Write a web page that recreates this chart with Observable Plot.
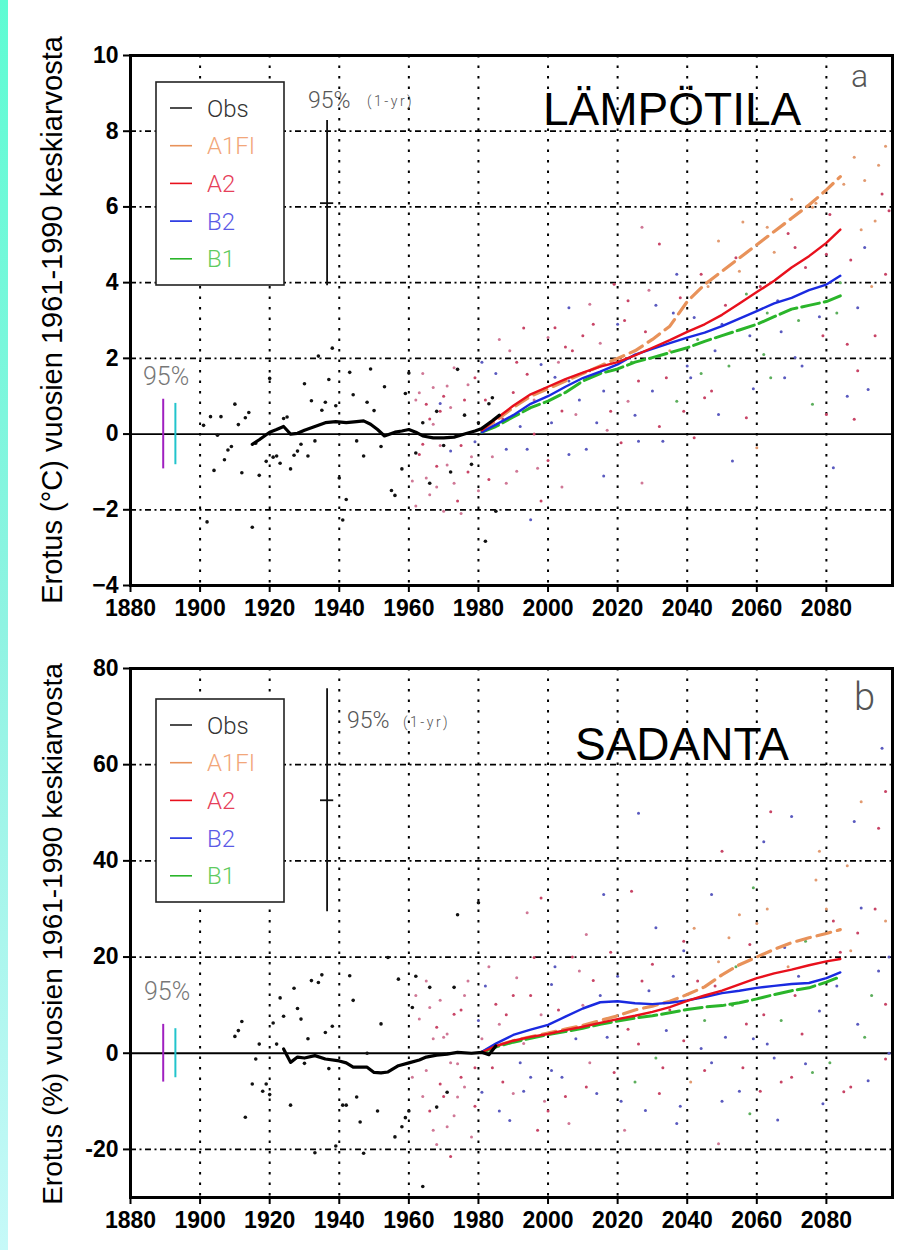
<!DOCTYPE html>
<html>
<head>
<meta charset="utf-8">
<script src="https://cdn.jsdelivr.net/npm/d3@7"></script>
<script src="https://cdn.jsdelivr.net/npm/@observablehq/plot@0.6"></script>
<style>
  body { margin: 0; background: #fff; }
  #page { position: relative; width: 923px; height: 1250px; overflow: hidden; background: #fff;
          font-family: "Liberation Sans", Arial, sans-serif; }
  #strip { position: absolute; left: 0; top: 0; width: 8px; height: 1250px;
           background: linear-gradient(#5efcd3, #8ff3e2 50%, #c6f9f8); }
  .panel { position: absolute; left: 0; }
  #overlay { position: absolute; left: 0; top: 0; pointer-events: none; }
</style>
</head>
<body>
<div id="page"><div id="strip"></div></div>
<script>
// ---------------- DATA ----------------
const xTicks = [1880, 1900, 1920, 1940, 1960, 1980, 2000, 2020, 2040, 2060, 2080];
const tempYTicks = [-4, -2, 0, 2, 4, 6, 8, 10];
const precYTicks = [-20, 0, 20, 40, 60, 80];
const legendNames = ["Obs", "A1FI", "A2", "B2", "B1"];

// Temperature: observed annual values (°C)
const tObsYear = [1901,1902,1903,1904,1905,1906,1907,1908,1909,1910,1911,1912,1913,1914,1915,1916,1917,1919,1920,1921,1922,1923,1924,1925,1926,1927,1928,1929,1930,1931,1932,1933,1934,1935,1936,1937,1938,1939,1940,1941,1942,1943,1944,1945,1947,1948,1949,1950,1952,1953,1955,1956,1958,1959,1960,1962,1964,1966,1968,1970,1972,1974,1976,1978,1980,1982,1983,1984,1985];
const tObsVal  = [0.23,-2.32,0.46,-0.96,-0.03,0.46,-0.68,-0.42,-0.33,0.79,0.25,-1.02,0.43,0.57,-2.46,-0.24,-1.09,-0.72,1.47,-0.61,-0.58,-0.77,0.41,0.45,-0.92,-0.56,-0.45,-0.27,1.33,-0.58,0.88,-0.18,2.06,0.63,0.84,1.44,2.27,0.75,-1.16,-2.27,-1.73,1.63,1.04,-0.18,-0.58,0.84,1.72,0.62,-0.33,1.25,-1.49,-1.62,-0.92,1.07,1.61,-0.5,0.3,-1.3,0.6,-0.3,-1.0,1.71,0.5,-0.8,0.3,-2.83,0.8,0.96,-2.04];
// Temperature: observed smoothed curve
const tObsLineYear = [1915,1917,1920,1922,1924,1925,1926,1928,1930,1933,1936,1939,1942,1945,1947,1949,1951,1953,1954,1956,1958,1960,1962,1964,1967,1970,1973,1976,1979,1981,1984,1986];
const tObsLineVal  = [-0.27,-0.15,0.05,0.12,0.2,0.1,0.0,0.02,0.1,0.2,0.3,0.33,0.3,0.33,0.35,0.26,0.12,-0.05,-0.02,0.05,0.08,0.12,0.05,-0.05,-0.1,-0.1,-0.08,0.0,0.08,0.15,0.35,0.5];
// Temperature: model annual values (°C) and scenario
const tModYear = [1961,1963,1963,1964,1965,1965,1966,1967,1967,1968,1969,1969,1970,1971,1971,1972,1973,1974,1976,1978,1979,1981,1983,1986,1988,1989,1990,1991,1992,1993,1994,1995,1996,1997,1998,1998,1999,2000,2001,2002,2003,2004,2005,2006,2006,2006,2008,2009,2010,2012,2012,2014,2015,2016,2016,2018,2019,2020,2021,2023,2023,2024,2026,2026,2027,2027,2028,2030,2031,2032,2033,2034,2035,2037,2037,2038,2040,2041,2042,2042,2043,2044,2045,2046,2047,2048,2049,2049,2051,2052,2053,2054,2055,2057,2057,2058,2060,2061,2062,2063,2064,2065,2066,2067,2068,2069,2071,2071,2072,2074,2076,2076,2077,2078,2080,2080,2081,2082,2083,2085,2086,2087,2088,2088,2089,2089,2090,2091,2092,2093,2094,2095,2096,2097,2098,2099,
  1962,1962,1964,1966,1968,1969,1970,1972,1973,1975,1975,1977,1977,1979,1980,1982,1984,1985,1987,1988,1991,1994,1996,2000,2002,2004,2007,2011,2013,2017,2022,2025,2029,2032,2036,2039,2044,2050,2056,2059,2063,2070,2073,2079,2084,2086,2091,2094,2097];
const tModVal  = [-1.24,1.09,-0.54,-0.27,0.79,-1.16,-1.6,1.23,0.26,-0.85,0.81,0.6,-2.04,1.27,-0.82,-0.45,1.75,-1.77,0.9,-0.6,1.49,1.9,-1.2,2.5,-0.4,2.2,1.1,-0.98,0.2,2.8,1.58,-2.26,0.0,-0.9,1.84,-1.77,1.2,2.55,0.3,2.81,1.9,0.61,2.3,-0.54,1.4,3.34,0.52,0.9,2.6,1.67,3.43,0.3,2.4,-1.11,1.14,0.6,3.96,2.9,-0.23,0.87,3.52,1.9,-0.19,1.4,-1.29,5.46,2.7,1.14,3.4,5.02,-0.19,1.49,2.2,0.87,4.22,3.6,1.8,1.49,-0.1,3.08,2.5,4.22,0.96,3.9,1.14,2.2,0.52,5.1,3.4,1.8,-0.71,4.66,4.3,0.43,3.7,2.6,-0.36,3.9,2.1,5.46,1.49,4.8,3.52,2.7,1.49,5.3,2.02,4.93,3.0,4.4,0.79,5.99,6.1,3.1,0.52,4.75,5.8,-0.89,3.2,6.6,2.37,4.6,0.39,7.31,1.67,3.34,5.4,4.93,1.18,3.9,5.63,7.1,6.34,4.22,5.9,4.5,
  0.9,-1.9,1.6,0.4,-1.4,-0.3,1.0,0.7,-1.3,-0.3,-2.1,1.3,-1.0,-0.2,-1.5,0.9,-0.6,1.6,0.4,-1.3,1.9,-0.4,0.9,-0.7,1.5,-1.4,2.2,-0.4,2.9,0.1,3.0,0.5,3.8,0.2,3.2,0.6,1.6,2.9,5.6,1.2,3.2,6.2,1.8,2.6,4.0,1.0,6.7,2.6,7.6];
const tModScen = ["C","C","A2","A2","A2","C","C","C","C","A2","B2","A2","C","C","C","B2","C","A2","A2","C","A2","B2","A2","C","B2","C","A2","C","B2","A2","A2","B2","A2","C","B2","A2","A2","C","B2","A2","C","A2","A2","B2","B2","B2","C","B2","A2","A2","C","B2","C","B2","B2","A2","A2","B2","A2","C","A2","B1","B2","A2","C","C","A2","B2","B2","A2","B2","A2","A1FI","B1","B2","A2","B2","B2","A2","B2","B1","A2","A2","A1FI","A2","B2","B2","A1FI","A2","B1","B2","A2","A1FI","A2","B1","B2","A1FI","A2","B1","A1FI","B1","A1FI","B2","B2","B2","A2","B2","A2","B1","A2","B1","A1FI","A1FI","B2","A2","A2","A2","B2","B1","A1FI","A2","A2","A2","A1FI","A2","B2","A1FI","B2","B2","A1FI","A1FI","A1FI","A2","A2","A2","B2",
  "C","C","C","A2","C","C","A2","C","C","A2","C","C","A2","B2","C","A2","C","B2","A2","C","A2","B2","C","A2","B2","C","A2","B2","A2","C","A2","B2","C","A2","B2","A2","B1","B2","A1FI","B2","B1","A1FI","B2","A2","B1","B2","A1FI","A2","A1FI"];

// Temperature: scenario 30-yr means (°C)
const scenYears = [1981,1985,1990,1995,2000,2005,2010,2015,2020,2025,2030,2035,2040,2045,2050,2055,2060,2065,2070,2075,2080,2084];
const tA1FI = [0.1,0.35,0.7,1.0,1.2,1.4,1.6,1.8,2.0,2.2,2.5,2.85,3.5,3.95,4.3,4.65,5.0,5.35,5.7,6.05,6.45,6.8];
const tA2   = [0.1,0.4,0.75,1.05,1.25,1.45,1.62,1.78,1.9,2.08,2.28,2.48,2.7,2.9,3.15,3.45,3.75,4.05,4.4,4.7,5.05,5.4];
const tB2   = [0.05,0.25,0.5,0.8,1.0,1.25,1.48,1.65,1.84,2.1,2.25,2.4,2.55,2.68,2.85,3.05,3.25,3.45,3.6,3.8,3.95,4.18];
const tB1   = [0.05,0.2,0.45,0.7,0.87,1.1,1.4,1.6,1.72,1.9,2.02,2.15,2.28,2.45,2.6,2.75,2.9,3.1,3.3,3.4,3.5,3.65];

// Precipitation: observed annual values (%)
const pObsYear = [1910,1911,1912,1913,1915,1916,1917,1918,1919,1920,1921,1922,1923,1924,1926,1927,1928,1929,1930,1931,1932,1933,1934,1935,1936,1937,1938,1939,1941,1942,1943,1944,1945,1946,1947,1948,1951,1952,1954,1956,1957,1958,1959,1960,1961,1962,1964,1966,1968,1971,1973,1974,1980];
const pObsVal  = [3.5,4.7,6.6,-13.3,-6.4,-1.2,1.9,-7.9,-6.4,-8.6,6.3,1.9,11.5,7.7,-10.8,13.5,9.3,7.1,-2.1,3.0,15.1,-20.7,14.7,16.3,4.3,-3.2,5.6,-19.3,-10.8,-10.8,16.1,11.0,-9.1,-14.3,-20.8,0.0,-12.0,6.1,19.9,-17.4,15.4,-15.3,-13.4,-12.0,9.5,16.0,-27.7,13.7,-11.2,-8.1,13.7,28.8,31.3];
// Precipitation: observed smoothed curve
const pObsLineYear = [1924,1926,1928,1930,1933,1936,1940,1942,1944,1948,1950,1952,1954,1957,1960,1963,1965,1968,1971,1974,1978,1981,1983,1985];
const pObsLineVal  = [0.9,-1.9,-0.8,-1.0,-0.5,-1.2,-1.6,-2.0,-2.9,-2.9,-4.0,-4.1,-3.9,-2.6,-2.0,-1.4,-0.8,-0.4,-0.2,0.2,0.0,0.2,-0.3,1.5];
// Precipitation: model annual values (%) and scenario
const pModYear = [1963,1965,1966,1967,1968,1969,1970,1971,1972,1973,1974,1974,1975,1976,1978,1979,1980,1981,1983,1985,1986,1987,1988,1990,1991,1992,1993,1994,1995,1996,1997,1998,1999,2001,2001,2003,2004,2006,2007,2008,2009,2011,2011,2012,2013,2014,2015,2016,2017,2019,2020,2022,2023,2024,2025,2026,2026,2028,2029,2030,2031,2032,2033,2034,2036,2037,2039,2039,2039,2041,2043,2045,2045,2047,2047,2049,2049,2050,2051,2052,2053,2055,2055,2056,2057,2058,2058,2059,2060,2061,2062,2062,2063,2064,2065,2066,2067,2068,2069,2070,2070,2071,2073,2074,2074,2076,2078,2078,2079,2080,2082,2083,2085,2087,2087,2088,2089,2090,2090,2091,2092,2093,2095,2095,2096,2097,2097,2097,2097,2098,2099,
  1961,1962,1964,1965,1966,1967,1968,1969,1970,1971,1972,1973,1975,1976,1977,1979,1981,1982,1984,1986,1989,1990,1993,1995,1998,2000,2002,2005,2010,2018,2021,2027,2031,2035,2038,2042,2044,2048,2050,2054,2059,2063,2067,2072,2077,2081,2084,2086,2089,2094,2098];
const pModVal  = [7.1,-3.6,9.5,-16.0,5.4,-6.4,3.3,-15.3,-21.5,8.1,-9.1,-2.2,-5.0,12.0,-17.4,-3.0,6.8,-8.1,18.0,10.2,-12.0,-6.0,8.0,-8.4,15.7,-2.0,-7.9,29.2,12.0,19.9,-16.0,32.3,-10.0,-3.6,14.3,9.0,-5.0,-14.6,20.0,3.0,17.1,-7.0,24.7,-2.0,15.1,-8.4,12.0,33.0,3.3,-4.0,16.0,-16.0,5.0,33.7,-6.0,1.9,49.9,-11.9,13.0,18.5,26.1,-8.4,-3.0,4.7,16.0,-14.6,2.6,21.3,23.3,-6.0,15.0,-3.6,6.8,-2.0,33.0,-18.8,19.0,42.0,3.3,24.0,10.0,-7.9,28.8,-3.0,6.1,-12.6,22.6,34.4,27.0,-7.9,44.0,8.0,1.9,50.2,-1.0,-13.9,6.8,22.0,18.0,-5.0,49.2,12.0,4.0,-2.2,23.3,-4.0,8.8,42.0,-10.5,30.0,27.5,14.0,-8.0,-7.0,21.3,48.2,25.0,52.3,30.2,3.3,-5.7,12.0,17.1,46.8,63.4,-1.2,10.2,54.4,27.5,20.0,35.0,
  -5,12,-9,15,-12,3,-19,11,-9,4,-2,-13,9,-7,15,-11,3,14,-3,6,-14,12,2,-5,8,-12,18,-9,10,21,-10,15,-1,9,-11,26,1,14,-10,18,3,30,-6,16,36,-2,21,39,6,30,0];
const pModScen = ["C","C","C","C","A2","A2","C","C","A2","A2","C","C","A2","C","C","A2","B2","B2","C","A2","B2","A2","A2","C","C","B2","B2","C","A2","A2","A2","A2","C","B2","B2","A2","B2","C","A2","B2","C","A2","C","C","A2","B2","B2","B2","B2","A2","B2","C","A2","A2","B1","A2","B2","B2","B2","A2","B2","A2","A2","B2","B2","B2","A2","B2","A2","A1FI","A2","A2","B1","B2","B2","C","A1FI","A2","B2","A1FI","B1","B2","A1FI","A2","A2","B1","A2","B1","A1FI","A2","B2","A2","B2","A2","B2","B2","B1","B2","A1FI","A2","B2","A2","A2","B2","B1","B1","B2","A1FI","B2","A1FI","A2","B2","A2","A2","A1FI","B2","A2","A1FI","B2","B1","B2","B1","B2","A2","B2","A2","A2","A2","A1FI","B2","A1FI",
  "C","C","C","C","A2","C","C","C","A2","C","C","C","A2","C","C","A2","C","B2","A2","C","B2","A2","C","B2","C","A2","B2","A2","C","A2","B2","A2","B1","A2","B2","A1FI","B2","A2","B2","B1","B2","A1FI","A2","B2","A1FI","B1","A2","A1FI","B2","A2","B2"];

// Precipitation: scenario 30-yr means (%)
const pA1FI = [0.2,1.5,2.6,3.4,4.2,5.0,5.8,6.8,7.8,9.0,9.8,10.8,12.2,13.8,16.3,18.4,20.0,21.6,23.0,24.0,24.9,25.7];
const pA2   = [0.2,1.5,2.6,3.4,4.0,4.8,5.5,6.3,7.1,7.8,8.6,9.6,10.9,12.0,13.0,14.3,15.6,16.6,17.4,18.3,19.1,19.6];
const pB2   = [0.3,2.0,3.8,4.9,5.9,7.6,9.3,10.6,10.8,10.4,10.2,10.5,11.0,11.7,12.5,13.0,13.6,14.0,14.4,14.6,15.6,16.8];
const pB1   = [0.2,1.3,2.3,3.1,3.9,4.5,5.2,6.0,6.7,7.3,7.8,8.4,9.1,9.6,9.9,10.5,11.3,12.2,13.0,13.6,14.8,15.9];

// 95 % ranges (half widths): 1-yr natural variability, 30-yr means (two estimates)
const tempCI1yr = [2.18];
const tempCI30  = [0.92, 0.81];
const precCI1yr = [23.2];
const precCI30  = [6.0, 5.1];

// ---------------- STYLES ----------------
const scenStyle = {
  A1FI: {stroke: "#e8925a", width: 3.2, dash: "14,7", dot: "#e29a70", legend: "#f2a67a"},
  B1:   {stroke: "#2ab52a", width: 3.0, dash: "18,5", dot: "#5cae5c", legend: "#5fcb5f"},
  B2:   {stroke: "#1a2ae0", width: 2.4, dash: null,   dot: "#5a5abf", legend: "#5a5ae6"},
  A2:   {stroke: "#e8101c", width: 2.4, dash: null,   dot: "#c84466", legend: "#e6405a"},
  C:    {dot: "#d07896"}
};
const FONT = "'Liberation Sans', Arial, sans-serif";
const TICKFONT = "'Liberation Sans Narrow', 'Arial Narrow', 'Liberation Sans', sans-serif";
const axisText = {fontSize: 23, fontWeight: "bold", fontFamily: TICKFONT, fill: "#000"};

function rows(years, vals, scen) {
  return years.map((y, i) => ({year: y, value: vals[i], scen: scen ? scen[i] : "Obs"}));
}

function makePanel(cfg) {
  const marks = [
    Plot.gridX(xTicks.slice(1), {stroke: "#000", strokeOpacity: 1, strokeWidth: 2, strokeDasharray: "2.5,8"}),
    Plot.gridY(cfg.yGrid, {stroke: "#000", strokeOpacity: 1, strokeWidth: 1.8, strokeDasharray: "6,3.5,2,3.5"}),
    Plot.ruleY([0], {stroke: "#000", strokeWidth: 1.8}),
    Plot.dot(cfg.mod, {x: "year", y: "value", r: 1.5, fill: d => scenStyle[d.scen].dot, stroke: null}),
    Plot.dot(cfg.obs, {x: "year", y: "value", r: 1.8, fill: "#111", stroke: null})
  ];
  for (const s of ["A1FI", "B1", "B2", "A2"]) {
    const st = scenStyle[s];
    marks.push(Plot.line(scenYears.map((y, i) => ({year: y, value: cfg.scen[s][i]})),
      {x: "year", y: "value", stroke: st.stroke, strokeWidth: st.width, strokeDasharray: st.dash, curve: "linear"}));
  }
  marks.push(Plot.line(cfg.obsLine, {x: "year", y: "value", stroke: "#000", strokeWidth: 3.2}));
  // 95% (1-yr) range bar
  const c = cfg.ci1Center, h = cfg.ci1[0];
  marks.push(Plot.ruleX([cfg.ci1Year], {y1: c - h, y2: c + h, stroke: "#111", strokeWidth: 1.8}));
  marks.push(Plot.ruleY([c], {x1: cfg.ci1Year - 1.9, x2: cfg.ci1Year + 1.9, stroke: "#111", strokeWidth: 1.8}));
  // 95% 30-yr range bars
  marks.push(Plot.ruleX([cfg.ci30Year[0]], {y1: -cfg.ci30[0], y2: cfg.ci30[0], stroke: "#a020c0", strokeWidth: 2}));
  marks.push(Plot.ruleX([cfg.ci30Year[1]], {y1: -cfg.ci30[1], y2: cfg.ci30[1], stroke: "#22c4cc", strokeWidth: 2}));
  marks.push(Plot.frame({stroke: "#000", strokeWidth: 3}));
  marks.push(Plot.axisX(xTicks, {tickSize: 7, tickPadding: 7, strokeWidth: 2, tickFormat: d => String(d), label: null, ...axisText}));
  marks.push(Plot.axisY(cfg.yTicks, {tickSize: 7, tickPadding: 5, strokeWidth: 2, tickFormat: cfg.yFmt, label: null, ...axisText}));

  const svg = Plot.plot({
    width: 923, height: cfg.height,
    marginLeft: 130, marginRight: 31, marginTop: cfg.marginTop, marginBottom: cfg.marginBottom,
    x: {domain: [1880, 2099]},
    y: {domain: cfg.yDomain},
    style: {fontFamily: TICKFONT, fontSize: "23px", fontWeight: "bold", color: "#000", background: "transparent", overflow: "visible"},
    marks
  });
  svg.classList.add("panel");
  svg.style.top = cfg.top + "px";
  return svg;
}

const page = document.getElementById("page");

page.appendChild(makePanel({
  top: 0, height: 625, marginTop: 55, marginBottom: 40,
  yDomain: [-4, 10], yTicks: tempYTicks, yGrid: [-2, 2, 4, 6, 8],
  yFmt: d => d < 0 ? "\u2212" + (-d) : String(d),
  obs: rows(tObsYear, tObsVal), obsLine: rows(tObsLineYear, tObsLineVal),
  mod: rows(tModYear, tModVal, tModScen),
  scen: {A1FI: tA1FI, A2: tA2, B2: tB2, B1: tB1},
  ci1: tempCI1yr, ci1Year: 1936.5, ci1Center: 6.1,
  ci30: tempCI30, ci30Year: [1889.4, 1892.9]
}));

page.appendChild(makePanel({
  top: 625, height: 625, marginTop: 43, marginBottom: 53,
  yDomain: [-30, 80], yTicks: precYTicks, yGrid: [-20, 20, 40, 60],
  yFmt: d => String(d),
  obs: rows(pObsYear, pObsVal), obsLine: rows(pObsLineYear, pObsLineVal),
  mod: rows(pModYear, pModVal, pModScen),
  scen: {A1FI: pA1FI, A2: pA2, B2: pB2, B1: pB1},
  ci1: precCI1yr, ci1Year: 1936.5, ci1Center: 52.6,
  ci30: precCI30, ci30Year: [1889.4, 1892.9]
}));

// ---------------- OVERLAY: legends and annotation text ----------------
const ov = d3.select(page).append("svg").attr("id", "overlay")
  .attr("width", 923).attr("height", 1250).attr("font-family", FONT);

function legend(top) {
  const g = ov.append("g").attr("transform", `translate(156,${top})`);
  g.append("rect").attr("width", 128).attr("height", 203).attr("fill", "#fff")
    .attr("stroke", "#222").attr("stroke-width", 1.6);
  legendNames.forEach((n, i) => {
    const col = n === "Obs" ? "#333" : scenStyle[n].legend;
    const y = 26 + i * 37.7;
    g.append("line").attr("x1", 14).attr("x2", 36).attr("y1", y).attr("y2", y)
      .attr("stroke", n === "Obs" ? "#222" : scenStyle[n].stroke).attr("stroke-width", 1.6);
    g.append("text").attr("x", 51).attr("y", y).attr("dy", "0.36em")
      .attr("font-size", 24).attr("font-weight", 300).attr("fill", col)
      .attr("font-family", "Roboto, 'Liberation Sans', sans-serif").text(n);
  });
}
legend(82);
legend(699);

function txt(x, y, s, size, opts = {}) {
  const t = ov.append("text").attr("x", x).attr("y", y).attr("font-size", size)
    .attr("fill", opts.fill || "#000").text(s);
  if (opts.weight) t.attr("font-weight", opts.weight);
  if (opts.family) t.attr("font-family", opts.family);
  if (opts.ls) t.attr("letter-spacing", opts.ls);
  if (opts.anchor) t.attr("text-anchor", opts.anchor);
  if (opts.transform) t.attr("transform", opts.transform).attr("x", 0).attr("y", 0);
  return t;
}
const thin = "Roboto, 'Liberation Sans', sans-serif";

// panel a
txt(543, 125, "LÄMPÖTILA", 46);
txt(851, 87, "a", 32, {fill: "#555", weight: 300, family: thin});
txt(308, 108, "95%", 23, {fill: "#555", weight: 300, family: thin});
txt(367, 106, "(1-yr)", 14, {fill: "#555", weight: 300, family: thin, ls: 2.5});
txt(143, 385, "95%", 25, {fill: "#777", weight: 300, family: thin});
txt(0, 0, "Erotus (°C) vuosien 1961-1990 keskiarvosta", 29,
    {anchor: "middle", transform: "translate(62,320) rotate(-90)"});

// panel b
txt(575, 760, "SADANTA", 46);
txt(854, 710, "b", 38, {fill: "#555", weight: 300, family: thin});
txt(347, 728, "95%", 23, {fill: "#555", weight: 300, family: thin});
txt(403, 727, "(1-yr)", 14, {fill: "#555", weight: 300, family: thin, ls: 2.5});
txt(144, 1000, "95%", 25, {fill: "#777", weight: 300, family: thin});
txt(0, 0, "Erotus (%) vuosien 1961-1990 keskiarvosta", 28,
    {anchor: "middle", transform: "translate(62,934) rotate(-90)"});
</script>
</body>
</html>
